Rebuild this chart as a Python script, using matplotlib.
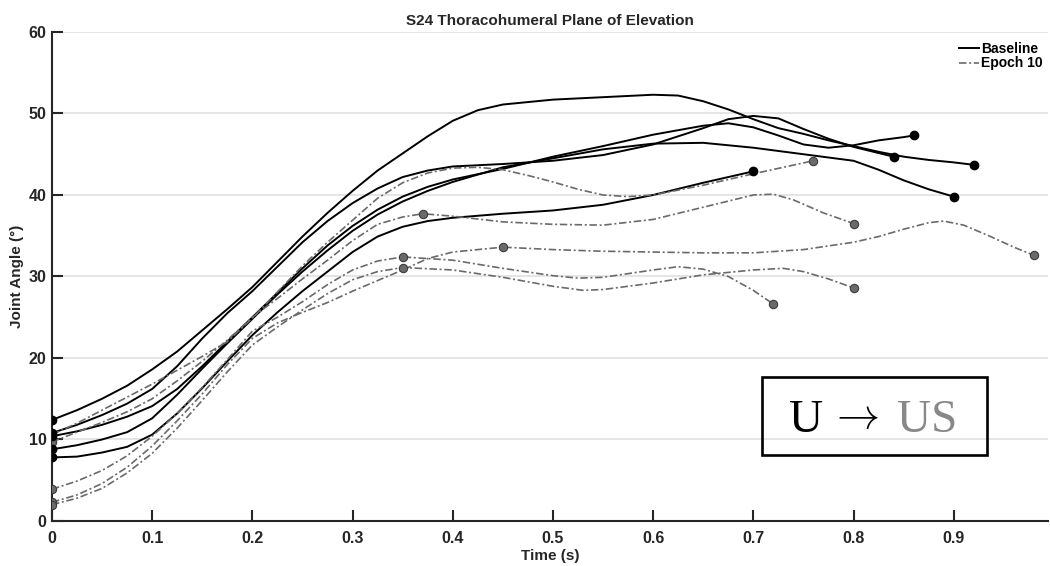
#!/usr/bin/env python3
"""S24 thoracohumeral plane of elevation: Baseline vs Epoch 10 trials."""

import matplotlib

matplotlib.use("Agg")
import matplotlib.pyplot as plt
from matplotlib.patches import Rectangle

plt.rcParams["font.family"] = ["Liberation Sans", "DejaVu Sans"]
plt.rcParams["font.weight"] = "bold"

COLOR_BASE = "#000000"
COLOR_EPOCH = "#6a6a6a"
COLOR_EPOCH_EDGE = "#3c3c3c"
COLOR_GRID = "#e3e3e3"
COLOR_AXIS = "#262626"

# --------------------------------------------------------------------------- #
# Baseline trials (time s, joint angle deg)
# --------------------------------------------------------------------------- #
base_t1 = [0, 0.025, 0.05, 0.075, 0.1, 0.125, 0.15, 0.175, 0.2, 0.225, 0.25, 0.275, 0.3,
           0.325, 0.35, 0.375, 0.4, 0.425, 0.45, 0.5, 0.55, 0.6, 0.625, 0.65, 0.675, 0.7,
           0.725, 0.75, 0.775, 0.8, 0.825, 0.85, 0.875, 0.9, 0.92]
base_v1 = [12.4, 13.6, 15.0, 16.6, 18.6, 20.8, 23.4, 26.0, 28.7, 31.8, 34.9, 37.8, 40.5,
           43.0, 45.1, 47.2, 49.1, 50.4, 51.1, 51.7, 52.0, 52.3, 52.2, 51.5, 50.5, 49.3,
           48.2, 47.5, 46.7, 46.0, 45.3, 44.7, 44.3, 44.0, 43.7]

base_t2 = [0, 0.025, 0.05, 0.075, 0.1, 0.125, 0.15, 0.175, 0.2, 0.225, 0.25, 0.275, 0.3,
           0.325, 0.35, 0.375, 0.4, 0.45, 0.5, 0.55, 0.6, 0.625, 0.65, 0.675, 0.7, 0.725,
           0.75, 0.775, 0.8, 0.82, 0.84]
base_v2 = [10.8, 11.8, 13.0, 14.4, 16.2, 19.0, 22.4, 25.5, 28.2, 31.2, 34.2, 36.8, 39.0,
           40.8, 42.2, 43.0, 43.5, 43.8, 44.2, 44.9, 46.2, 47.2, 48.2, 49.3, 49.7, 49.4,
           48.1, 46.9, 45.9, 45.3, 44.7]

base_t3 = [0, 0.025, 0.05, 0.075, 0.1, 0.125, 0.15, 0.175, 0.2, 0.225, 0.25, 0.275, 0.3,
           0.325, 0.35, 0.375, 0.4, 0.45, 0.5, 0.55, 0.6, 0.65, 0.675, 0.7, 0.725, 0.75,
           0.775, 0.8, 0.825, 0.85, 0.86]
base_v3 = [10.4, 11.0, 11.8, 12.8, 14.1, 16.2, 19.0, 22.0, 25.0, 28.0, 31.0, 33.8, 36.2,
           38.2, 39.8, 41.0, 41.9, 43.2, 44.7, 46.0, 47.4, 48.5, 48.8, 48.3, 47.3, 46.2,
           45.8, 46.1, 46.7, 47.1, 47.3]

base_t4 = [0, 0.025, 0.05, 0.075, 0.1, 0.125, 0.15, 0.175, 0.2, 0.225, 0.25, 0.275, 0.3,
           0.325, 0.35, 0.375, 0.4, 0.45, 0.5, 0.55, 0.6, 0.65, 0.7, 0.75, 0.8, 0.825,
           0.85, 0.875, 0.9]
base_v4 = [8.8, 9.3, 10.0, 10.9, 12.6, 15.5, 18.7, 21.8, 24.8, 27.8, 30.6, 33.2, 35.6,
           37.6, 39.2, 40.5, 41.6, 43.4, 44.5, 45.6, 46.3, 46.4, 45.8, 45.0, 44.2, 43.1,
           41.8, 40.7, 39.8]

base_t5 = [0, 0.025, 0.05, 0.075, 0.1, 0.125, 0.15, 0.175, 0.2, 0.225, 0.25, 0.275, 0.3,
           0.325, 0.35, 0.375, 0.4, 0.45, 0.5, 0.55, 0.6, 0.65, 0.7]
base_v5 = [7.8, 7.9, 8.4, 9.1, 10.6, 13.2, 16.3, 19.6, 22.8, 25.6, 28.2, 30.6, 33.0,
           34.9, 36.1, 36.8, 37.2, 37.7, 38.1, 38.8, 40.0, 41.5, 42.9]

# --------------------------------------------------------------------------- #
# Epoch 10 trials
# --------------------------------------------------------------------------- #
epoch_t1 = [0, 0.025, 0.05, 0.075, 0.1, 0.125, 0.15, 0.175, 0.2, 0.225, 0.25, 0.275, 0.3,
            0.325, 0.35, 0.375, 0.4, 0.425, 0.45, 0.475, 0.5, 0.525, 0.55, 0.575, 0.6,
            0.625, 0.65, 0.7, 0.73, 0.76]
epoch_v1 = [10.6, 12.0, 13.6, 15.2, 16.8, 18.5, 20.2, 22.0, 24.9, 28.1, 31.3, 34.2, 36.9,
            39.6, 41.5, 42.7, 43.3, 43.4, 43.1, 42.4, 41.6, 40.7, 40.0, 39.8, 40.0, 40.6,
            41.2, 42.6, 43.4, 44.2]

epoch_t2 = [0, 0.025, 0.05, 0.075, 0.1, 0.125, 0.15, 0.175, 0.2, 0.225, 0.25, 0.275, 0.3,
            0.325, 0.35, 0.37, 0.4, 0.45, 0.5, 0.55, 0.6, 0.65, 0.7, 0.72, 0.74, 0.77, 0.8]
epoch_v2 = [9.7, 10.9, 12.1, 13.4, 15.0, 17.2, 19.6, 22.2, 25.0, 27.3, 29.7, 32.0, 34.4,
            36.4, 37.3, 37.7, 37.4, 36.7, 36.4, 36.3, 37.0, 38.5, 40.0, 40.1, 39.4, 37.8,
            36.5]

epoch_t3 = [0, 0.025, 0.05, 0.075, 0.1, 0.125, 0.15, 0.175, 0.2, 0.225, 0.25, 0.275, 0.3,
            0.325, 0.35, 0.375, 0.4, 0.45, 0.5, 0.55, 0.6, 0.65, 0.7, 0.75, 0.8, 0.825,
            0.85, 0.875, 0.89, 0.91, 0.935, 0.96, 0.98]
epoch_v3 = [2.3, 3.2, 4.6, 6.6, 9.2, 12.3, 15.6, 19.2, 22.4, 24.3, 25.6, 26.8, 28.2, 29.5,
            30.8, 32.2, 33.0, 33.6, 33.3, 33.1, 33.0, 32.9, 32.9, 33.3, 34.2, 34.9, 35.8,
            36.6, 36.8, 36.3, 35.0, 33.6, 32.6]

epoch_t4 = [0, 0.025, 0.05, 0.075, 0.1, 0.125, 0.15, 0.175, 0.2, 0.225, 0.25, 0.275, 0.3,
            0.325, 0.35, 0.4, 0.45, 0.5, 0.525, 0.55, 0.6, 0.625, 0.65, 0.675, 0.7, 0.72]
epoch_v4 = [3.9, 4.9, 6.2, 8.0, 10.4, 13.2, 16.4, 19.8, 23.3, 25.0, 26.9, 29.0, 30.8, 31.9,
            32.4, 32.0, 31.0, 30.1, 29.8, 29.9, 30.8, 31.2, 30.9, 30.0, 28.3, 26.6]

epoch_t5 = [0, 0.025, 0.05, 0.075, 0.1, 0.125, 0.15, 0.175, 0.2, 0.225, 0.25, 0.275, 0.3,
            0.325, 0.35, 0.4, 0.45, 0.5, 0.53, 0.55, 0.6, 0.65, 0.7, 0.73, 0.75, 0.775, 0.8]
epoch_v5 = [2.0, 2.8, 4.0, 5.9, 8.3, 11.4, 14.8, 18.3, 21.6, 23.8, 25.9, 27.9, 29.6, 30.6,
            31.1, 30.8, 29.9, 28.8, 28.3, 28.4, 29.2, 30.2, 30.8, 31.0, 30.6, 29.7, 28.6]

# mid-trial markers on the Epoch 10 curves
epoch_mark_t = [0.37, 0.45, 0.35, 0.35]
epoch_mark_v = [37.7, 33.6, 32.4, 31.1]

x_ticks = [0, 0.1, 0.2, 0.3, 0.4, 0.5, 0.6, 0.7, 0.8, 0.9]
x_tick_labels = ["0", "0.1", "0.2", "0.3", "0.4", "0.5", "0.6", "0.7", "0.8", "0.9"]
y_ticks = [0, 10, 20, 30, 40, 50, 60]

BASELINE = [(base_t1, base_v1), (base_t2, base_v2), (base_t3, base_v3),
            (base_t4, base_v4), (base_t5, base_v5)]
EPOCH = [(epoch_t1, epoch_v1), (epoch_t2, epoch_v2), (epoch_t3, epoch_v3),
         (epoch_t4, epoch_v4), (epoch_t5, epoch_v5)]


def main() -> None:
    fig = plt.figure(figsize=(10.5, 5.66), dpi=100)
    ax = fig.add_axes([0.0495, 0.0795, 0.9485, 0.864])

    for y in y_ticks[1:]:
        ax.axhline(y, color=COLOR_GRID, lw=1.3, zorder=0)

    epoch_dash = (0, (4.5, 1.6, 1.2, 1.6))
    for i, (t, v) in enumerate(BASELINE):
        ax.plot(t, v, color=COLOR_BASE, lw=1.4, zorder=2,
                label="Baseline" if i == 0 else None)
    for i, (t, v) in enumerate(EPOCH):
        ax.plot(t, v, color=COLOR_EPOCH, lw=1.2, linestyle=epoch_dash, zorder=3,
                label="Epoch 10" if i == 0 else None)

    # start / end markers
    gray_dot = dict(marker="o", ms=6, mfc=COLOR_EPOCH, mec=COLOR_EPOCH_EDGE, mew=0.8,
                    linestyle="none", zorder=4)
    black_dot = dict(marker="o", ms=6, color=COLOR_BASE, linestyle="none", zorder=5)
    for t, v in EPOCH:
        ax.plot([t[0], t[-1]], [v[0], v[-1]], **gray_dot)
    ax.plot(epoch_mark_t, epoch_mark_v, **gray_dot)
    for t, v in BASELINE:
        ax.plot([t[0], t[-1]], [v[0], v[-1]], **black_dot)

    ax.set_xlim(0, 0.994)
    ax.set_ylim(0, 60)
    ax.set_xticks(x_ticks)
    ax.set_xticklabels(x_tick_labels)
    ax.set_yticks(y_ticks)
    for side in ("top", "right"):
        ax.spines[side].set_visible(False)
    for side in ("left", "bottom"):
        ax.spines[side].set_linewidth(1.5)
        ax.spines[side].set_color(COLOR_AXIS)
    ax.tick_params(direction="in", length=8, width=1.5, color=COLOR_AXIS,
                   labelsize=11.5, labelcolor=COLOR_AXIS, pad=4)
    ax.tick_params(axis="x", pad=7)
    for lab in ax.get_xticklabels() + ax.get_yticklabels():
        lab.set_fontweight("bold")

    ax.set_title("S24 Thoracohumeral Plane of Elevation", fontsize=11,
                 fontweight="bold", color=COLOR_AXIS, pad=5)
    ax.set_xlabel("Time (s)", fontsize=11, fontweight="bold", color=COLOR_AXIS,
                  labelpad=2)
    ax.set_ylabel("Joint Angle (°)", fontsize=11, fontweight="bold", color=COLOR_AXIS,
                  labelpad=3)

    leg = ax.legend(loc="upper right", bbox_to_anchor=(1.003, 0.997), frameon=False,
                    fontsize=10, handlelength=1.45, handletextpad=0.15, labelspacing=0.05,
                    borderaxespad=0.2)
    for txt in leg.get_texts():
        txt.set_fontweight("bold")

    # condition box
    ax.add_patch(Rectangle((0.713, 0.135), 0.226, 0.16, transform=ax.transAxes,
                           fill=False, edgecolor="black", lw=1.9, zorder=6))
    serif = ["Liberation Serif", "DejaVu Serif"]
    ax.text(0.74, 0.182, "U", transform=ax.transAxes, fontsize=34,
            family=serif, fontweight="normal", color="black", va="baseline", zorder=7)
    ax.text(0.780, 0.19, r"$\rightarrow$", transform=ax.transAxes, fontsize=31,
            math_fontfamily="cm", fontweight="normal", color="black", va="baseline",
            zorder=7)
    ax.text(0.848, 0.182, "US", transform=ax.transAxes, fontsize=34,
            family=serif, fontweight="normal", color="#888888", va="baseline", zorder=7)

    fig.savefig("out.png", dpi=100)
    plt.close(fig)


if __name__ == "__main__":
    main()
